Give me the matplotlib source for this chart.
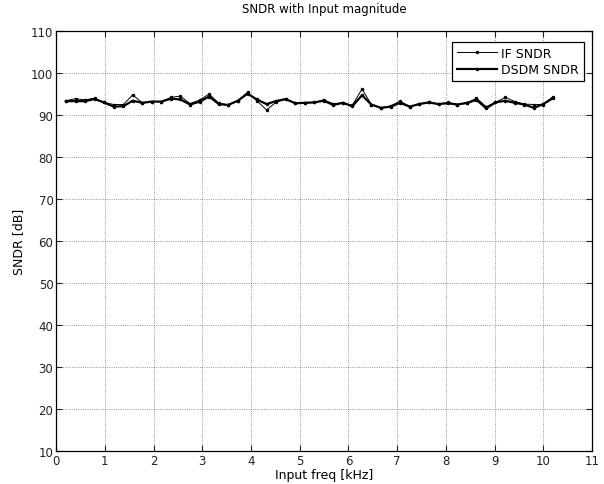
import matplotlib
matplotlib.use("Agg")
import matplotlib.pyplot as plt

# --- data ---
freq_khz = [0.20, 0.40, 0.59, 0.79, 0.98, 1.18, 1.38, 1.57, 1.77, 1.96,
            2.16, 2.36, 2.55, 2.75, 2.95, 3.14, 3.34, 3.53, 3.73, 3.93,
            4.12, 4.32, 4.51, 4.71, 4.91, 5.10, 5.30, 5.49, 5.69, 5.89,
            6.08, 6.28, 6.47, 6.67, 6.87, 7.06, 7.26, 7.45, 7.65, 7.85,
            8.04, 8.24, 8.44, 8.63, 8.83, 9.02, 9.22, 9.42, 9.61, 9.81,
            10.00, 10.20]

if_sndr = [93.4, 93.9, 93.6, 94.0, 93.0, 92.5, 92.5, 94.8, 92.9, 93.2,
           93.2, 94.2, 94.5, 92.7, 93.6, 95.0, 92.8, 92.4, 93.4, 95.4,
           93.4, 91.2, 93.0, 93.8, 92.8, 92.9, 93.0, 93.6, 92.7, 92.9,
           92.3, 96.2, 92.5, 91.7, 92.2, 93.3, 92.0, 92.6, 93.0, 92.6,
           93.0, 92.5, 92.9, 94.0, 92.0, 93.0, 94.2, 93.2, 92.6, 92.5,
           92.5, 94.4]

dsdm_sndr = [93.3, 93.3, 93.3, 93.8, 93.0, 92.0, 92.1, 93.4, 92.9, 93.2,
             93.2, 93.9, 93.7, 92.5, 93.2, 94.4, 92.6, 92.4, 93.4, 95.1,
             93.7, 92.6, 93.3, 93.8, 92.8, 92.9, 93.0, 93.4, 92.4, 92.9,
             92.1, 94.7, 92.5, 91.7, 92.0, 92.9, 92.0, 92.6, 93.0, 92.6,
             92.8, 92.5, 92.9, 93.6, 91.6, 93.0, 93.4, 92.9, 92.5, 91.7,
             92.6, 94.0]

x_ticks = list(range(0, 12))
y_ticks = list(range(10, 111, 10))

plt.rcParams['font.family'] = ['DejaVu Sans']
plt.rcParams['font.size'] = 8.5

fig = plt.figure(figsize=(6.04, 4.85), dpi=100)
ax = fig.add_axes([0.093, 0.068, 0.887, 0.866])

ax.plot(freq_khz, if_sndr, color='black', linewidth=0.7, marker='.',
        markersize=3, label='IF SNDR')
ax.plot(freq_khz, dsdm_sndr, color='black', linewidth=1.6, marker='.',
        markersize=3, label='DSDM SNDR')

ax.set_xlim(0, 11)
ax.set_ylim(10, 110)
ax.set_xticks(x_ticks)
ax.set_yticks(y_ticks)
ax.grid(True, color='black', linestyle=':', linewidth=0.6, alpha=0.55)
ax.tick_params(direction='in', length=4, width=0.8, top=True, right=True,
               labelsize=8.5, pad=2, colors='#222222')
for sp in ax.spines.values():
    sp.set_linewidth(0.9)
    sp.set_color('black')

ax.set_title('SNDR with Input magnitude', fontsize=8.5, pad=14)
ax.set_xlabel('Input freq [kHz]', fontsize=9, labelpad=1)
ax.set_ylabel('SNDR [dB]', fontsize=9, labelpad=4)

leg = ax.legend(loc='upper right', bbox_to_anchor=(0.985, 0.975),
                borderaxespad=0, fancybox=False, framealpha=1,
                edgecolor='black', fontsize=9, handlelength=3.2,
                handletextpad=0.3, borderpad=0.4, labelspacing=0.3)
leg.get_frame().set_linewidth(0.9)

fig.savefig('out.png', dpi=100)
